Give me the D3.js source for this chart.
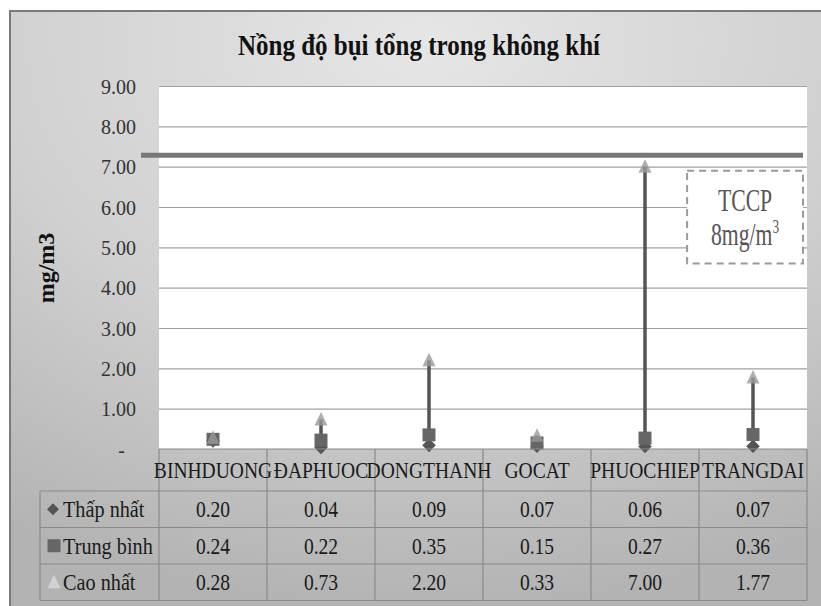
<!DOCTYPE html>
<html>
<head>
<meta charset="utf-8">
<script src="https://cdn.jsdelivr.net/npm/d3@7"></script>
<style>
  body { margin: 0; background: #fff; }
  svg { display: block; }
  text { font-family: "Liberation Serif", "Times New Roman", serif; }
</style>
</head>
<body>
<svg id="chart" width="821" height="606"></svg>
<script>
// Data
const categories = ["BINHDUONG", "ĐAPHUOC", "DONGTHANH", "GOCAT", "PHUOCHIEP", "TRANGDAI"];
const lowValues = [0.20, 0.04, 0.09, 0.07, 0.06, 0.07];
const avgValues = [0.24, 0.22, 0.35, 0.15, 0.27, 0.36];
const highValues = [0.28, 0.73, 2.20, 0.33, 7.00, 1.77];
const seriesNames = ["Thấp nhất", "Trung bình", "Cao nhất"];
const yTicks = [0, 1, 2, 3, 4, 5, 6, 7, 8, 9];
const limitValue = 7.28; // thick line drawn for TCCP
const chartTitle = "Nồng độ bụi tổng trong không khí";
const yTitle = "mg/m3";

const svg = d3.select("#chart");

// Layout
const plot = { left: 159, right: 807, top: 86, bottom: 449 };
const tableLeft = 40;
const catRowBottom = 491;
const rowH = 36.5;
const textScale = 0.85;

const xScale = d3.scaleBand().domain(categories).range([plot.left, plot.right]).padding(0);
const yScale = d3.scaleLinear().domain([0, 9]).range([plot.bottom, plot.top]);
const bw = xScale.bandwidth();
const cx = c => xScale(c) + bw / 2;

// Background gradient
const defs = svg.append("defs");
const grad = defs.append("radialGradient")
    .attr("id", "bg")
    .attr("cx", "50%").attr("cy", "5%").attr("r", "95%");
grad.append("stop").attr("offset", "0%").attr("stop-color", "#e6e6e6");
grad.append("stop").attr("offset", "55%").attr("stop-color", "#d0d0d0");
grad.append("stop").attr("offset", "100%").attr("stop-color", "#b3b3b3");

svg.append("rect")
    .attr("x", 10).attr("y", 11)
    .attr("width", 830).attr("height", 600)
    .attr("fill", "url(#bg)")
    .attr("stroke", "#7a7a7a")
    .attr("stroke-width", 2);

// Plot area
svg.append("rect")
    .attr("x", plot.left).attr("y", plot.top)
    .attr("width", plot.right - plot.left).attr("height", plot.bottom - plot.top)
    .attr("fill", "#fff");

// Gridlines
svg.append("g")
    .attr("transform", `translate(${plot.left},0)`)
    .call(d3.axisLeft(yScale).tickValues(yTicks.slice(1)).tickSize(-(plot.right - plot.left)).tickFormat(""))
    .call(g => g.select(".domain").remove())
    .call(g => g.selectAll(".tick line").attr("stroke", "#a0a0a0").attr("stroke-width", 1.2));

// Y axis labels
svg.append("g")
    .attr("transform", `translate(${plot.left},0)`)
    .call(d3.axisLeft(yScale).tickValues(yTicks).tickSize(0).tickPadding(23)
        .tickFormat(d => d === 0 ? "-" : d3.format(".2f")(d)))
    .call(g => g.select(".domain").remove())
    .call(g => g.selectAll(".tick text")
        .attr("font-family", "Liberation Serif")
        .attr("font-size", 20)
        .attr("fill", "#333")
        .attr("dy", "0.35em")
        .attr("dx", d => d === 0 ? -11 : 0));

// Y axis title
svg.append("text")
    .attr("transform", `translate(54,${(plot.top + plot.bottom) / 2 + 0.5}) rotate(-90)`)
    .attr("text-anchor", "middle")
    .attr("font-size", 24)
    .attr("font-weight", "bold")
    .attr("fill", "#111")
    .text(yTitle);

// Title
svg.append("text")
    .attr("x", 419).attr("y", 55)
    .attr("text-anchor", "middle")
    .attr("font-size", 30)
    .attr("font-weight", "bold")
    .attr("fill", "#111")
    .attr("textLength", 362)
    .attr("lengthAdjust", "spacingAndGlyphs")
    .text(chartTitle);

// TCCP limit line
svg.append("line")
    .attr("x1", plot.left - 18).attr("x2", plot.right - 4)
    .attr("y1", yScale(limitValue)).attr("y2", yScale(limitValue))
    .attr("stroke", "#777")
    .attr("stroke-width", 5);

// TCCP box
const boxLeft = xScale("PHUOCHIEP") + bw * 0.89;
const boxRight = plot.right - 4;
const boxTop = yScale(6.9);
const boxBottom = yScale(4.6);
svg.append("rect")
    .attr("x", boxLeft).attr("y", boxTop)
    .attr("width", boxRight - boxLeft).attr("height", boxBottom - boxTop)
    .attr("fill", "#fff")
    .attr("stroke", "#999")
    .attr("stroke-width", 2)
    .attr("stroke-dasharray", "7,5");

const boxCx = (boxLeft + boxRight) / 2;
svg.append("text")
    .attr("transform", `translate(${boxCx},${boxTop + 40}) scale(0.7,1)`)
    .attr("text-anchor", "middle")
    .attr("font-size", 31)
    .attr("fill", "#555")
    .text("TCCP");
const t2 = svg.append("text")
    .attr("transform", `translate(${boxCx},${boxTop + 74}) scale(0.7,1)`)
    .attr("text-anchor", "middle")
    .attr("font-size", 31)
    .attr("fill", "#555");
t2.append("tspan").text("8mg/m");
t2.append("tspan").attr("font-size", 19).attr("dy", -12).text("3");

// High-low lines and markers
const rows = categories.map((c, i) => ({ c, low: lowValues[i], avg: avgValues[i], high: highValues[i] }));

const triangleType = {
    draw(ctx, size) {
        const w = 6.5, h = 7.5;
        ctx.moveTo(0, -h);
        ctx.lineTo(w, h * 0.8);
        ctx.lineTo(-w, h * 0.8);
        ctx.closePath();
    }
};

const marks = svg.append("g");
marks.selectAll(".hl")
    .data(rows)
    .join("line")
    .attr("x1", d => cx(d.c)).attr("x2", d => cx(d.c))
    .attr("y1", d => yScale(d.low)).attr("y2", d => yScale(d.high))
    .attr("stroke", "#555")
    .attr("stroke-width", 3.5);

marks.selectAll(".low")
    .data(rows)
    .join("path")
    .attr("d", d3.symbol(d3.symbolSquare, 92))
    .attr("transform", d => `translate(${cx(d.c)},${yScale(d.low)}) rotate(45)`)
    .attr("fill", "#555");

marks.selectAll(".avg")
    .data(rows)
    .join("path")
    .attr("d", d3.symbol(d3.symbolSquare, 169))
    .attr("transform", d => `translate(${cx(d.c)},${yScale(d.avg)})`)
    .attr("fill", "#666");

marks.selectAll(".high")
    .data(rows)
    .join("path")
    .attr("d", d3.symbol(triangleType))
    .attr("transform", d => `translate(${cx(d.c)},${yScale(d.high)})`)
    .attr("fill", "#999")
    .attr("fill-opacity", 0.8);

// Data table
const table = svg.append("g").attr("stroke", "#8a8a8a").attr("stroke-width", 1.2);
table.append("line")
    .attr("x1", plot.left).attr("x2", plot.right)
    .attr("y1", plot.bottom).attr("y2", plot.bottom);
[0, 1, 2, 3].forEach(r => {
    table.append("line")
        .attr("x1", tableLeft).attr("x2", plot.right)
        .attr("y1", catRowBottom + r * rowH).attr("y2", catRowBottom + r * rowH);
});
table.append("line")
    .attr("x1", tableLeft).attr("x2", tableLeft)
    .attr("y1", catRowBottom).attr("y2", catRowBottom + 3 * rowH);
table.selectAll(".vcol")
    .data(categories.concat([null]))
    .join("line")
    .attr("x1", d => d ? xScale(d) : plot.right)
    .attr("x2", d => d ? xScale(d) : plot.right)
    .attr("y1", plot.bottom)
    .attr("y2", catRowBottom + 3 * rowH);

// Category labels
svg.append("g").selectAll("text")
    .data(categories)
    .join("text")
    .attr("transform", d => `translate(${cx(d)},${catRowBottom - 13}) scale(${textScale},1)`)
    .attr("text-anchor", "middle")
    .attr("font-size", 23)
    .attr("fill", "#1a1a1a")
    .text(d => d);

// Table values
const seriesValues = [lowValues, avgValues, highValues];
seriesValues.forEach((vals, r) => {
    const base = catRowBottom + r * rowH + rowH / 2 + 8;
    svg.append("g").selectAll("text")
        .data(vals)
        .join("text")
        .attr("transform", (d, i) => `translate(${cx(categories[i])},${base}) scale(${textScale},1)`)
        .attr("text-anchor", "middle")
        .attr("font-size", 23)
        .attr("fill", "#1a1a1a")
        .text(d => d3.format(".2f")(d));

    svg.append("text")
        .attr("transform", `translate(63,${base}) scale(0.88,1)`)
        .attr("font-size", 23)
        .attr("fill", "#1a1a1a")
        .text(seriesNames[r]);
});

// Legend keys in table
const keyX = 53;
const keyY = r => catRowBottom + r * rowH + rowH / 2;
svg.append("path")
    .attr("d", d3.symbol(d3.symbolSquare, 72))
    .attr("transform", `translate(${keyX},${keyY(0)}) rotate(45)`)
    .attr("fill", "#555");
svg.append("path")
    .attr("d", d3.symbol(d3.symbolSquare, 169))
    .attr("transform", `translate(${keyX + 1},${keyY(1)})`)
    .attr("fill", "#666");
svg.append("path")
    .attr("d", d3.symbol(triangleType))
    .attr("transform", `translate(${keyX + 1},${keyY(2)})`)
    .attr("fill", "#d2d2d2");
</script>
</body>
</html>
